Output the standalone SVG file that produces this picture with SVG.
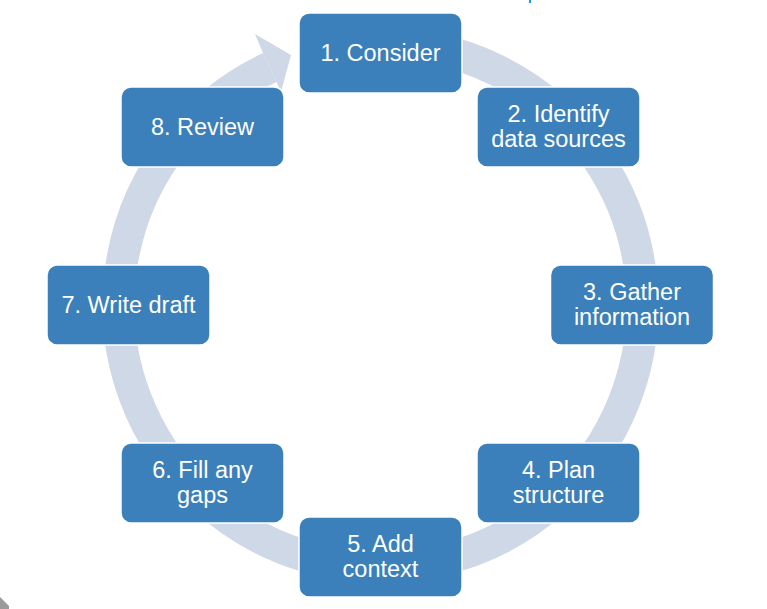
<svg xmlns="http://www.w3.org/2000/svg" width="767" height="609" viewBox="0 0 767 609">
  <style>
    .node rect { fill: #3B80BA; stroke: #FFFFFF; stroke-width: 1.5; }
    .node text { fill: #FFFFFF; font-family: "Liberation Sans", Arial, sans-serif; font-size: 23.5px; text-anchor: middle; }
    .ring { fill: none; stroke: #CFD8E7; stroke-width: 32; }
    .head { fill: #CFD8E7; }
  </style>
  <rect x="0" y="0" width="767" height="609" fill="#FFFFFF"/>
  <rect x="529" y="0" width="2" height="3" fill="#1E9BE8"/>
  <polygon points="0,597 9,606 9,609 0,609" fill="#9A9A9A"/>
  <g id="connectors">
    <path class="ring" d="M380.5,43 A262,262 0 1,1 269.8,67.5"/>
    <polygon class="head" points="263,53 255,34 291,55 281,92 276.5,82"/>
  </g>
  <g id="node1" class="node">
    <rect x="299" y="13" width="163" height="80" rx="10"/>
    <text x="380.5" y="61">1. Consider</text>
  </g>
  <g id="node2" class="node">
    <rect x="477" y="87" width="163" height="80" rx="10"/>
    <text x="558.5" y="122">2. Identify</text>
    <text x="558.5" y="146.5">data sources</text>
  </g>
  <g id="node3" class="node">
    <rect x="550.5" y="265" width="163" height="80" rx="10"/>
    <text x="632" y="300">3. Gather</text>
    <text x="632" y="324.5">information</text>
  </g>
  <g id="node4" class="node">
    <rect x="477" y="443" width="163" height="80" rx="10"/>
    <text x="558.5" y="478">4. Plan</text>
    <text x="558.5" y="502.5">structure</text>
  </g>
  <g id="node5" class="node">
    <rect x="299" y="517" width="163" height="80" rx="10"/>
    <text x="380.5" y="552">5. Add</text>
    <text x="380.5" y="576.5">context</text>
  </g>
  <g id="node6" class="node">
    <rect x="121" y="443" width="163" height="80" rx="10"/>
    <text x="202.5" y="478">6. Fill any</text>
    <text x="202.5" y="502.5">gaps</text>
  </g>
  <g id="node7" class="node">
    <rect x="47" y="265" width="163" height="80" rx="10"/>
    <text x="128.5" y="313">7. Write draft</text>
  </g>
  <g id="node8" class="node">
    <rect x="121" y="87" width="163" height="80" rx="10"/>
    <text x="202.5" y="135">8. Review</text>
  </g>
</svg>
